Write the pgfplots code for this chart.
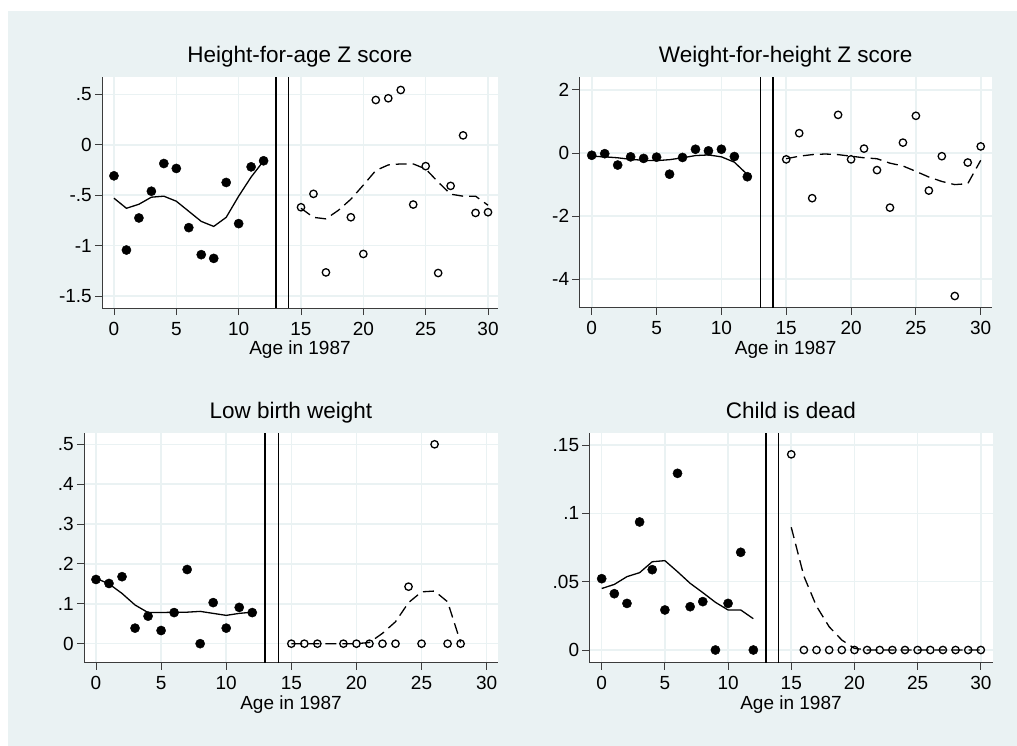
\documentclass[border=0pt]{standalone}
\usepackage{fontspec}
\setmainfont{Liberation Sans}
\usepackage{pgfplots}
\pgfplotsset{compat=1.18}
\definecolor{bg}{RGB}{234,242,243}
\definecolor{axc}{RGB}{60,60,60}

\pgfplotsset{
  filled/.style={only marks, mark=*, mark size=4.6pt, black},
  hollow/.style={only marks, mark=o, mark size=3.7pt, black, mark options={line width=1.3pt}},
  fit/.style={no marks, black, line width=1.3pt},
  dfit/.style={no marks, black, line width=1.3pt, dash pattern=on 11pt off 6pt},
  vl/.style={no marks, black, line width=1.6pt},
  stata/.style={
    scale only axis,
    axis lines*=left,
    axis background/.style={fill=white},
    tick align=outside,
    major tick length=7pt,
    tick style={axc, line width=0.9pt},
    axis line style={axc, line width=1pt},
    grid=major,
    major grid style={bg, line width=1.6pt},
    xtick={0,5,...,30},
    xticklabels={0,5,10,15,20,25,30},
    ticklabel style={font=\fontsize{19}{19}\selectfont, text=black},
    xticklabel style={anchor=base, inner sep=0pt, yshift=-20pt},
    yticklabel style={anchor=east, inner sep=0pt, xshift=-3pt},
    title style={font=\fontsize{22.5}{22.5}\selectfont, at={(0.5,1)}, anchor=base, yshift=8.5pt},
    xlabel={Age in 1987},
    xlabel style={font=\fontsize{19}{19}\selectfont, at={(0.5,0)}, anchor=base, yshift=-46.5pt},
  }
}

\begin{document}
\begin{tikzpicture}
\path[use as bounding box] (0,0) rectangle (1017pt,-746pt);
\fill[white] (0,0) rectangle (1017pt,-746pt);
\fill[bg] (8pt,-11pt) rectangle (1017pt,-746pt);

% Panel 1
\begin{axis}[stata, at={(102pt,-77pt)}, anchor=north west, width=396pt, height=231pt,
  xmin=-0.96, xmax=30.8, ymin=-1.619, ymax=0.672,
  ytick={-1.5,-1,-0.5,0,0.5}, yticklabels={-1.5,-1,-.5,0,.5},
  title={Height-for-age Z score}]
\addplot[vl] coordinates {(13,-1.619) (13,0.672)};
\addplot[vl] coordinates {(14,-1.619) (14,0.672)};
\addplot[filled] coordinates {(0,-0.308) (1,-1.044) (2,-0.726) (3,-0.461) (4,-0.186) (5,-0.235) (6,-0.822) (7,-1.090) (8,-1.127) (9,-0.374) (10,-0.782) (11,-0.219) (12,-0.159)};
\addplot[fit] coordinates {(0,-0.53) (1,-0.63) (2,-0.59) (3,-0.52) (4,-0.51) (5,-0.56) (6,-0.66) (7,-0.76) (8,-0.81) (9,-0.72) (10,-0.51) (11,-0.32) (12,-0.16)};
\addplot[hollow] coordinates {(15,-0.62) (16,-0.487) (17,-1.266) (19,-0.719) (20,-1.083) (21,0.444) (22,0.461) (23,0.543) (24,-0.593) (25,-0.212) (26,-1.272) (27,-0.408) (28,0.093) (29,-0.676) (30,-0.669)};
\addplot[dfit] coordinates {(15,-0.63) (16,-0.72) (17,-0.735) (18,-0.65) (19,-0.54) (20,-0.40) (21,-0.255) (22,-0.20) (23,-0.19) (24,-0.19) (25,-0.24) (26,-0.37) (27,-0.49) (28,-0.51) (29,-0.51) (30,-0.60)};
\end{axis}

% Panel 2
\begin{axis}[stata, at={(579.3pt,-77pt)}, anchor=north west, width=412.7pt, height=231pt,
  xmin=-0.96, xmax=30.87, ymin=-4.91, ymax=2.41,
  ytick={-4,-2,0,2}, yticklabels={-4,-2,0,2},
  title={Weight-for-height Z score}]
\addplot[vl] coordinates {(13,-4.91) (13,2.41)};
\addplot[vl] coordinates {(14,-4.91) (14,2.41)};
\addplot[filled] coordinates {(0,-0.07) (1,-0.02) (2,-0.38) (3,-0.12) (4,-0.17) (5,-0.13) (6,-0.67) (7,-0.14) (8,0.12) (9,0.07) (10,0.12) (11,-0.11) (12,-0.75)};
\addplot[fit] coordinates {(0,-0.10) (1,-0.12) (2,-0.15) (3,-0.20) (4,-0.23) (5,-0.24) (6,-0.21) (7,-0.15) (8,-0.08) (9,-0.06) (10,-0.12) (11,-0.29) (12,-0.68)};
\addplot[hollow] coordinates {(15,-0.20) (16,0.63) (17,-1.43) (19,1.21) (20,-0.20) (21,0.14) (22,-0.54) (23,-1.73) (24,0.33) (25,1.18) (26,-1.19) (27,-0.10) (28,-4.53) (29,-0.30) (30,0.21)};
\addplot[dfit] coordinates {(15,-0.18) (16,-0.10) (17,-0.05) (18,-0.03) (19,-0.05) (20,-0.10) (21,-0.15) (22,-0.18) (23,-0.32) (24,-0.41) (25,-0.58) (26,-0.76) (27,-0.90) (28,-1.00) (29,-0.97) (30,-0.23)};
\end{axis}

% Panel 3
\begin{axis}[stata, at={(84pt,-433.3pt)}, anchor=north west, width=414pt, height=229.4pt,
  xmin=-0.92, xmax=30.87, ymin=-0.0477, ymax=0.5276,
  ytick={0,0.1,0.2,0.3,0.4,0.5}, yticklabels={0,.1,.2,.3,.4,.5},
  title={Low birth weight}]
\addplot[vl] coordinates {(13,-0.0477) (13,0.5276)};
\addplot[vl] coordinates {(14,-0.0477) (14,0.5276)};
\addplot[filled] coordinates {(0,0.161) (1,0.151) (2,0.168) (3,0.039) (4,0.069) (5,0.033) (6,0.078) (7,0.186) (8,0.000) (9,0.103) (10,0.039) (11,0.091) (12,0.078)};
\addplot[fit] coordinates {(0,0.164) (1,0.150) (2,0.126) (3,0.097) (4,0.078) (5,0.078) (6,0.079) (7,0.079) (8,0.081) (9,0.076) (10,0.071) (11,0.076) (12,0.079)};
\addplot[hollow] coordinates {(15,0) (16,0) (17,0) (19,0) (20,0) (21,0) (22,0) (23,0) (24,0.143) (25,0) (26,0.5) (27,0) (28,0)};
\addplot[dfit] coordinates {(15,0) (16,0) (17,0) (18,0) (19,0) (20,0) (21,0.003) (22,0.026) (23,0.055) (24,0.103) (25,0.130) (26,0.132) (27,0.105) (28,0.003)};
\end{axis}

% Panel 4
\begin{axis}[stata, at={(589.3pt,-433.3pt)}, anchor=north west, width=403.4pt, height=229.4pt,
  xmin=-0.98, xmax=30.94, ymin=-0.0093, ymax=0.1586,
  ytick={0,0.05,0.1,0.15}, yticklabels={0,.05,.1,.15},
  title={Child is dead}]
\addplot[vl] coordinates {(13,-0.0093) (13,0.1586)};
\addplot[vl] coordinates {(14,-0.0093) (14,0.1586)};
\addplot[filled] coordinates {(0,0.0522) (1,0.0412) (2,0.0341) (3,0.0937) (4,0.0588) (5,0.0293) (6,0.1293) (7,0.0317) (8,0.0354) (9,0) (10,0.0341) (11,0.0715) (12,0)};
\addplot[fit] coordinates {(0,0.045) (1,0.048) (2,0.0537) (3,0.0566) (4,0.0646) (5,0.0654) (6,0.0573) (7,0.0488) (8,0.042) (9,0.0349) (10,0.0293) (11,0.0293) (12,0.0229)};
\addplot[hollow] coordinates {(15,0.1432) (16,0) (17,0) (18,0) (19,0) (20,0) (21,0) (22,0) (23,0) (24,0) (25,0) (26,0) (27,0) (28,0) (29,0) (30,0)};
\addplot[dfit] coordinates {(15,0.0898) (16,0.054) (17,0.032) (18,0.017) (19,0.0073) (20,0.0012) (21,0) (22,0) (23,0) (24,0) (25,0) (26,0) (27,0) (28,0) (29,0) (30,0)};
\end{axis}
\end{tikzpicture}
\end{document}
